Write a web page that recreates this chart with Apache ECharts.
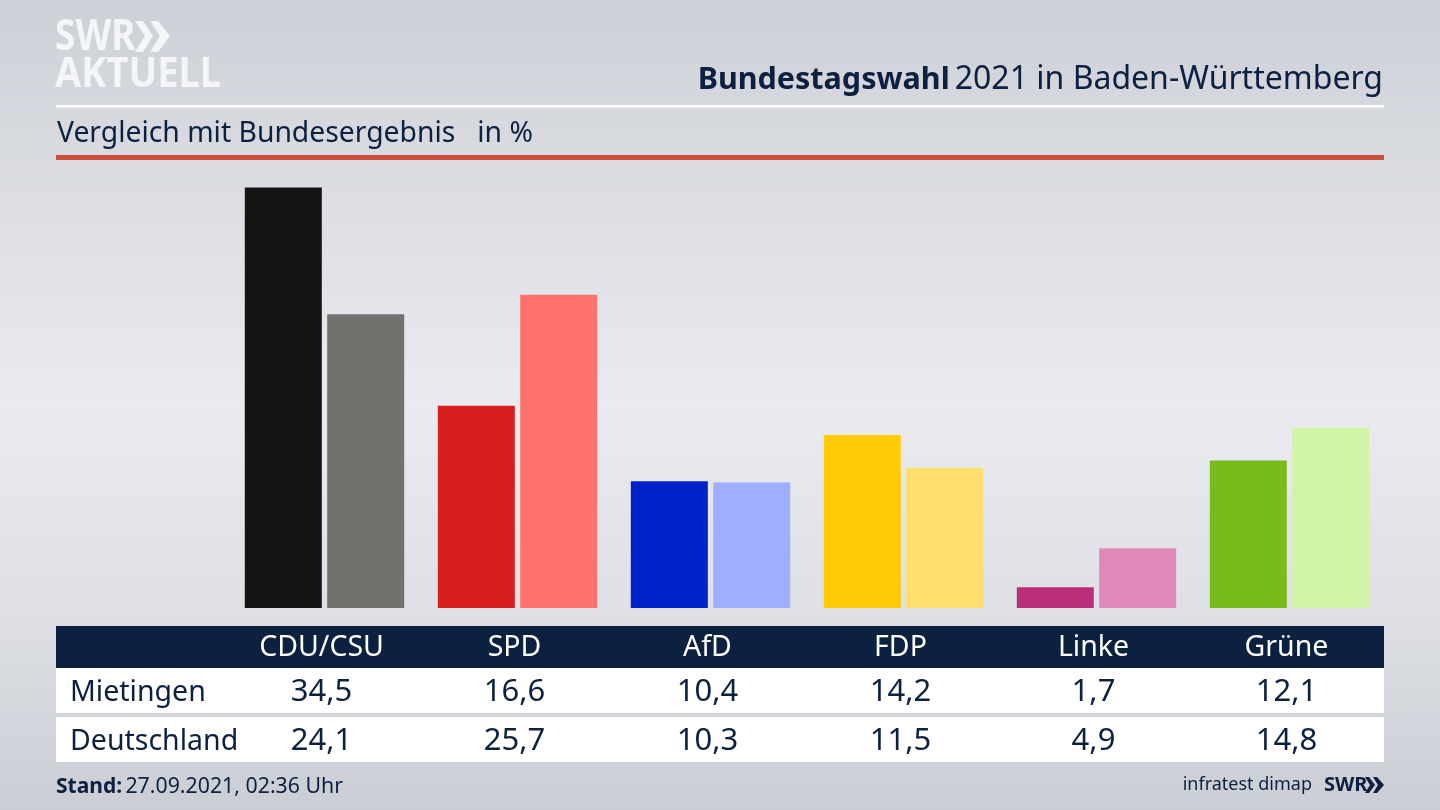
<!DOCTYPE html>
<html><head><meta charset="utf-8">
<style>html,body{margin:0;padding:0;background:#dfe1e7}#c{width:1440px;height:810px}</style>
<script src="https://cdn.jsdelivr.net/npm/echarts@6/dist/echarts.min.js"></script>
</head><body><div id="c"></div>
<script>
const parties = ['CDU/CSU','SPD','AfD','FDP','Linke','Grüne'];
const mietingen = [34.5,16.6,10.4,14.2,1.7,12.1];
const deutschland = [24.1,25.7,10.3,11.5,4.9,14.8];
const strongColors = ['#141414','#d81e1e','#0021c8','#ffcb08','#bb2f7a','#78bc1c'];
const lightColors = ['#73716e','#ff726e','#a0aeff','#ffdf6e','#e088b8','#d1f5a5'];
const rowNames = ['Mietingen','Deutschland'];
const FONT = '"Noto Sans"';
const NAVY = '#0c2040';
const fmt = v => v.toFixed(1).replace('.', ',');
const chart = echarts.init(document.getElementById('c'), null, {renderer:'canvas'});
const tableAxis = (data, center, color, size) => ({
  type:'category', data, position:'bottom', offset:center-608, z:10,
  axisLine:{show:false}, axisTick:{show:false},
  axisLabel:{interval:0, margin:0, verticalAlign:'middle', padding:[0,6,0,0], color, fontFamily:FONT, fontSize:size}
});
const bars = (name, values, colors) => ({
  name, type:'bar', barWidth:77, barGap:'7%', xAxisIndex:0, yAxisIndex:0,
  data: values.map((value,i)=>({value, itemStyle:{color:colors[i]}}))
});
chart.setOption({
  animation:false,
  backgroundColor:{type:'linear',x:0,y:0,x2:0,y2:1,colorStops:[
    {offset:0,color:'#cdd0d6'},{offset:0.25,color:'#dcdee4'},{offset:0.5,color:'#e9ebf0'},{offset:0.75,color:'#dee0e5'},{offset:1,color:'#cacdd4'}]},
  title:[
    {text:'{b|Bundestagswahl} {r|2021 in Baden-Württemberg}', right:52, top:59,
     textStyle:{rich:{
       b:{fontFamily:FONT,fontSize:30.5,fontWeight:'bold',color:NAVY},
       r:{fontFamily:FONT,fontSize:32,fontWeight:'normal',color:NAVY}}}},
    {text:'Vergleich mit Bundesergebnis   in %', left:52, top:115,
     textStyle:{fontFamily:FONT,fontSize:28.3,fontWeight:'normal',color:NAVY}}
  ],
  grid:{left:228, width:1158, top:181.5, height:426.5, containLabel:false},
  yAxis:{type:'value',min:0,max:35,show:false},
  xAxis:[
    tableAxis(parties,648,'#ffffff',28.5),
    tableAxis(mietingen.map(fmt),692.5,NAVY,31),
    tableAxis(deutschland.map(fmt),741.5,NAVY,31)
  ],
  series:[bars(rowNames[0],mietingen,strongColors),bars(rowNames[1],deutschland,lightColors)],
  graphic:[
    {type:'rect',shape:{x:56,y:105,width:1328,height:2.5},style:{fill:'#ffffff'},z:1},
    {type:'rect',shape:{x:56,y:155,width:1328,height:5},style:{fill:'#cc4f3d'},z:1},
    {type:'rect',shape:{x:56,y:626,width:1328,height:42},style:{fill:NAVY},z:1},
    {type:'rect',shape:{x:56,y:668,width:1328,height:45},style:{fill:'#ffffff'},z:1},
    {type:'rect',shape:{x:56,y:717,width:1328,height:45},style:{fill:'#ffffff'},z:1},
    {type:'text',x:70,y:693,z:5,style:{text:rowNames[0],font:'28.5px '+FONT,fill:NAVY,verticalAlign:'middle'}},
    {type:'text',x:70,y:742,z:5,style:{text:rowNames[1],font:'28.5px '+FONT,fill:NAVY,verticalAlign:'middle'}},
    {type:'text',x:55,y:38,z:5,scaleX:0.86,style:{text:'SWR',font:'bold 43px '+FONT,fill:'#f4f5f7',verticalAlign:'middle'}},
    {type:'polygon',z:5,shape:{points:[[135,21],[143,21],[153,36],[143,52],[135,52],[145,36]]},style:{fill:'#f4f5f7'}},
    {type:'polygon',z:5,shape:{points:[[150,21],[158,21],[170,36],[158,52],[150,52],[160,36]]},style:{fill:'#f4f5f7'}},
    {type:'text',x:55,y:75,z:5,scaleX:0.905,style:{text:'AKTUELL',font:'bold 42px '+FONT,fill:'#f4f5f7',verticalAlign:'middle'}},
    {type:'text',x:56,y:787,z:5,style:{text:'{b|Stand:} {r|27.09.2021, 02:36 Uhr}',verticalAlign:'middle',rich:{
       b:{font:'bold 21px '+FONT,fill:NAVY},r:{font:'21.3px '+FONT,fill:NAVY}}}},
    {type:'text',x:1312,y:785,z:5,style:{text:'infratest dimap',font:'18px '+FONT,fill:NAVY,align:'right',verticalAlign:'middle'}},
    {type:'text',x:1324,y:785,z:5,style:{text:'SWR',font:'bold 20px '+FONT,fill:NAVY,verticalAlign:'middle'}},
    {type:'polygon',z:5,shape:{points:[[1365,777],[1369,777],[1375,785],[1369,793],[1365,793],[1370,785]]},style:{fill:NAVY}},
    {type:'polygon',z:5,shape:{points:[[1373,777],[1377,777],[1384,785],[1377,793],[1373,793],[1378,785]]},style:{fill:NAVY}}
  ]
});
</script></body></html>
